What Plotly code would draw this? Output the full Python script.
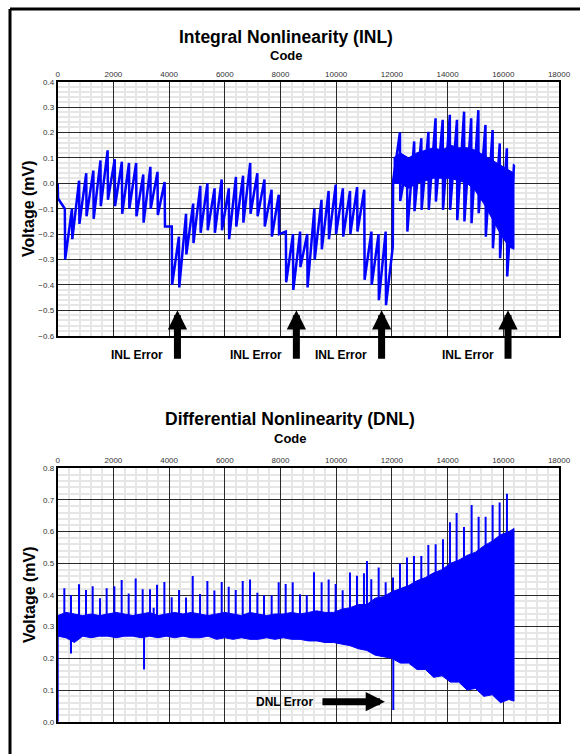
import plotly.graph_objects as go

W, H = 580, 754
FONT = "Liberation Sans, Arial, sans-serif"

# ---------------- INL data ----------------
# codes at which the sawtooth jumps (every 256 codes)
inl_codes = [0, 256, 512, 768, 1024, 1280, 1536, 1792, 2048, 2304, 2560, 2816, 3072, 3328, 3584, 3840,
             4096, 4352, 4608, 4864, 5120, 5376, 5632, 5888, 6144, 6400, 6656, 6912, 7168, 7424, 7680, 7936,
             8192, 8448, 8704, 8960, 9216, 9472, 9728, 9984, 10240, 10496, 10752, 11008, 11264, 11520, 11776,
             12032, 12288, 12544, 12800, 13056, 13312, 13568, 13824, 14080, 14336, 14592, 14848, 15104, 15360,
             15616, 15872, 16128, 16384]
# value just before the jump
inl_before = [0.00, -0.10, -0.10, 0.01, 0.04, 0.05, 0.09, 0.13, 0.095, 0.085, 0.08, 0.08, 0.035, 0.065, 0.045, 0.005,
              -0.17, -0.21, -0.12, -0.08, -0.01, 0.00, -0.02, 0.015, -0.02, 0.025, 0.03, 0.08, 0.04, 0.015, -0.025, -0.045,
              -0.19, -0.20, -0.19, -0.20, -0.10, -0.065, -0.03, -0.005, -0.02, -0.03, -0.015, -0.025, -0.19, -0.20, -0.19,
              -0.25, 0.20, 0.085, 0.165, 0.177, 0.203, 0.256, 0.25, 0.27, 0.25, 0.282, 0.256, 0.288, 0.23,
              0.21, 0.157, 0.138, 0.072]
# value just after the jump
inl_after = [-0.06, -0.30, -0.22, -0.16, -0.13, -0.14, -0.09, -0.065, -0.09, -0.12, -0.10, -0.13, -0.155, -0.10, -0.125, -0.17,
             -0.40, -0.41, -0.28, -0.235, -0.195, -0.185, -0.195, -0.185, -0.22, -0.17, -0.155, -0.12, -0.13, -0.17, -0.21, -0.20,
             -0.39, -0.42, -0.33, -0.41, -0.30, -0.26, -0.22, -0.20, -0.21, -0.20, -0.19, -0.38, -0.40, -0.46, -0.48,
             0.01, -0.07, -0.19, -0.11, -0.105, -0.105, -0.072, -0.105, -0.105, -0.145, -0.15, -0.157, -0.118, -0.21,
             -0.256, -0.295, -0.367, 0.072]
# dense solid region of the last segment
inl_band_code = [12060, 12300, 12600, 12900, 13200, 13500, 13800, 14100, 14400, 14700, 15000, 15300, 15600, 15900, 16200, 16384]
inl_band_hi = [0.10, 0.12, 0.10, 0.12, 0.13, 0.14, 0.13, 0.15, 0.14, 0.14, 0.13, 0.11, 0.09, 0.07, 0.05, 0.04]
inl_band_lo = [0.00, 0.00, -0.02, 0.00, 0.01, 0.02, 0.02, 0.02, 0.01, 0.00, -0.03, -0.08, -0.14, -0.20, -0.25, -0.26]

inl_err_code = [4300, 8570, 11630, 16170]
inl_err_text_code = [2860, 7130, 10165, 14725]

# ---------------- DNL data ----------------
dnl_band_code = [0, 300, 600, 900, 1200, 1500, 1800, 2100, 2400, 2700, 3000, 3300, 3600, 3900, 4200, 4500, 4800,
                 5100, 5400, 5700, 6000, 6300, 6600, 6900, 7200, 7500, 7800, 8100, 8400, 8700, 9000, 9300, 9600,
                 9900, 10200, 10500, 10800, 11100, 11400, 11700, 12000, 12300, 12600, 12900, 13200, 13500, 13800,
                 14100, 14400, 14700, 15000, 15300, 15600, 15900, 16200, 16384]
dnl_band_hi = [0.335, 0.345, 0.34, 0.335, 0.34, 0.335, 0.34, 0.345, 0.34, 0.335, 0.34, 0.345, 0.335, 0.34, 0.345, 0.34,
               0.345, 0.34, 0.335, 0.34, 0.345, 0.34, 0.335, 0.345, 0.34, 0.335, 0.34, 0.34, 0.345, 0.34, 0.345, 0.35,
               0.345, 0.345, 0.355, 0.36, 0.37, 0.37, 0.39, 0.395, 0.41, 0.42, 0.43, 0.445, 0.455, 0.47, 0.48, 0.50,
               0.51, 0.525, 0.535, 0.555, 0.57, 0.59, 0.60, 0.61]
dnl_band_lo = [0.27, 0.265, 0.25, 0.27, 0.265, 0.27, 0.27, 0.265, 0.27, 0.27, 0.265, 0.27, 0.265, 0.27, 0.265, 0.27,
               0.265, 0.265, 0.27, 0.26, 0.265, 0.26, 0.265, 0.26, 0.26, 0.265, 0.26, 0.265, 0.26, 0.26, 0.255, 0.255,
               0.25, 0.25, 0.245, 0.24, 0.23, 0.225, 0.21, 0.205, 0.20, 0.185, 0.185, 0.165, 0.165, 0.14, 0.145, 0.125,
               0.125, 0.10, 0.105, 0.08, 0.085, 0.06, 0.07, 0.065]
dnl_spike_code = [238, 477, 765, 1016, 1256, 1519, 1758, 2034, 2297, 2548, 2800, 3051, 3315, 3446, 3567, 3830,
                  4093, 4357, 4608, 4848, 5111, 5374, 5626, 5889, 6140, 6392, 6643, 6906, 7169, 7408, 7683, 7935,
                  8186, 8438, 8700, 8944, 9202, 9477, 9729, 9980, 10232, 10495, 10746, 10997, 11105, 11260, 11525,
                  11776, 12039, 12290, 12541, 12792, 13056, 13308, 13571, 13834, 14085, 14324, 14588, 14863, 15114,
                  15365, 15616, 15868, 16131]
dnl_spike_mv = [0.421, 0.40, 0.434, 0.416, 0.428, 0.39, 0.421, 0.428, 0.447, 0.405, 0.452, 0.418, 0.418, 0.36, 0.432, 0.441,
                0.393, 0.416, 0.392, 0.46, 0.403, 0.444, 0.414, 0.441, 0.426, 0.416, 0.444, 0.449, 0.407, 0.399, 0.399, 0.44,
                0.435, 0.44, 0.402, 0.40, 0.472, 0.44, 0.449, 0.435, 0.415, 0.471, 0.461, 0.469, 0.507, 0.45, 0.487,
                0.44, 0.455, 0.50, 0.518, 0.523, 0.523, 0.558, 0.56, 0.576, 0.63, 0.659, 0.615, 0.684, 0.647,
                0.647, 0.684, 0.692, 0.72]
dnl_dip_code = [0, 477, 3100, 12050]
dnl_dip_mv = [0.0, 0.215, 0.165, 0.037]
dnl_err_code = 11750
dnl_err_mv = 0.063
dnl_err_text_code = 8130

BLUE = "#0000ff"

# ---------------- build traces ----------------
JUMP = 12  # small code offset so each jump is drawn almost vertical
inl_x, inl_y = [], []
for c, b, a in zip(inl_codes, inl_before, inl_after):
    inl_x += [c, c + JUMP]
    inl_y += [b, a]

fig = go.Figure()

fig.add_trace(go.Scatter(
    x=inl_band_code + inl_band_code[::-1], y=inl_band_hi + inl_band_lo[::-1],
    fill="toself", fillcolor=BLUE, line=dict(color=BLUE, width=1), mode="lines",
    hoverinfo="skip", showlegend=False, xaxis="x", yaxis="y"))
fig.add_trace(go.Scatter(x=inl_x, y=inl_y, mode="lines", line=dict(color=BLUE, width=2.5),
                         showlegend=False, xaxis="x", yaxis="y"))

fig.add_trace(go.Scatter(
    x=dnl_band_code + dnl_band_code[::-1], y=dnl_band_hi + dnl_band_lo[::-1],
    fill="toself", fillcolor=BLUE, line=dict(color=BLUE, width=1), mode="lines",
    hoverinfo="skip", showlegend=False, xaxis="x2", yaxis="y2"))
sx, sy = [], []
for c, v in zip(dnl_spike_code + dnl_dip_code, dnl_spike_mv + dnl_dip_mv):
    sx += [c, c, None]
    sy += [0.3, v, None]
fig.add_trace(go.Scatter(x=sx, y=sy, mode="lines", line=dict(color=BLUE, width=2),
                         showlegend=False, xaxis="x2", yaxis="y2"))

# ---------------- axes ----------------
def px_x(p):
    return p / W

def px_y(p):
    return 1 - p / H

xdom = [px_x(57.7), px_x(559)]

def code_to_paper(c):
    return xdom[0] + c / 18000 * (xdom[1] - xdom[0])

grid_major = dict(showgrid=True, gridcolor="#2a2a2a", gridwidth=1)
common_x = dict(range=[0, 18000], dtick=2000, tick0=0, side="top", showline=True, mirror=True,
                linecolor="black", linewidth=2, ticks="", zeroline=False, tickformat="d", automargin=False,
                tickfont=dict(family=FONT, size=8, color="#333"),
                minor=dict(dtick=400, showgrid=True, gridcolor="#e6e6e6", gridwidth=2),
                **grid_major)
common_y = dict(showline=True, mirror=True, linecolor="black", linewidth=2, ticks="", zeroline=False,
                tickformat=".1f", automargin=False, tickfont=dict(family=FONT, size=8, color="#333"),
                minor=dict(dtick=0.02, showgrid=True, gridcolor="#e6e6e6", gridwidth=2),
                **grid_major)

fig.update_layout(
    width=W, height=H, margin=dict(l=0, r=0, t=0, b=0, pad=0, autoexpand=False),
    paper_bgcolor="white", plot_bgcolor="white", showlegend=False,
    xaxis=dict(domain=xdom, anchor="y", **common_x),
    yaxis=dict(domain=[px_y(335.7), px_y(81.7)], range=[-0.6, 0.4], dtick=0.1, tick0=0, anchor="x", **common_y),
    xaxis2=dict(domain=xdom, anchor="y2", **common_x),
    yaxis2=dict(domain=[px_y(721.7), px_y(468.3)], range=[0, 0.8], dtick=0.1, tick0=0, anchor="x2", **common_y),
)

ann = []
def txt(x, y, s, size, **kw):
    d = dict(x=x, y=y, xref="paper", yref="paper", text=s, showarrow=False,
             xanchor="center", yanchor="middle",
             font=dict(family=FONT, size=size, color="black"))
    d.update(kw)
    ann.append(d)

txt(px_x(286), px_y(37), "<b>Integral Nonlinearity (INL)</b>", 17.5)
txt(px_x(286), px_y(55), "<b>Code</b>", 13)
txt(px_x(290), px_y(419), "<b>Differential Nonlinearity (DNL)</b>", 17.5)
txt(px_x(290), px_y(438), "<b>Code</b>", 13)
txt(px_x(29), px_y(209), "<b>Voltage (mV)</b>", 16, textangle=-90)
txt(px_x(29), px_y(595), "<b>Voltage (mV)</b>", 16, textangle=-90)

for c in inl_err_code:
    ann.append(dict(x=c, y=-0.5, xref="x", yref="y", text="", showarrow=True, ax=0, ay=50,
                    arrowhead=2, arrowsize=0.55, arrowwidth=7, arrowcolor="black"))
for c in inl_err_text_code:
    txt(code_to_paper(c), px_y(355), "<b>INL Error</b>", 12)
ann.append(dict(x=dnl_err_code, y=dnl_err_mv, xref="x2", yref="y2", text="", showarrow=True, ax=-64, ay=0,
                arrowhead=2, arrowsize=0.55, arrowwidth=7, arrowcolor="black"))
ann.append(dict(x=dnl_err_text_code, y=dnl_err_mv, xref="x2", yref="y2", text="<b>DNL Error</b>", showarrow=False,
                font=dict(family=FONT, size=12, color="black")))
fig.update_layout(annotations=ann)

# frame (left and top edges)
fig.add_shape(type="line", xref="paper", yref="paper", x0=px_x(10), x1=1.0, y0=px_y(9), y1=px_y(9),
              line=dict(color="black", width=3))
fig.add_shape(type="line", xref="paper", yref="paper", x0=px_x(10), x1=px_x(10), y0=0.0, y1=px_y(9),
              line=dict(color="black", width=3))

fig.write_html("out.html", post_script="document.body.style.margin='0px';",
               config={"displayModeBar": False})
